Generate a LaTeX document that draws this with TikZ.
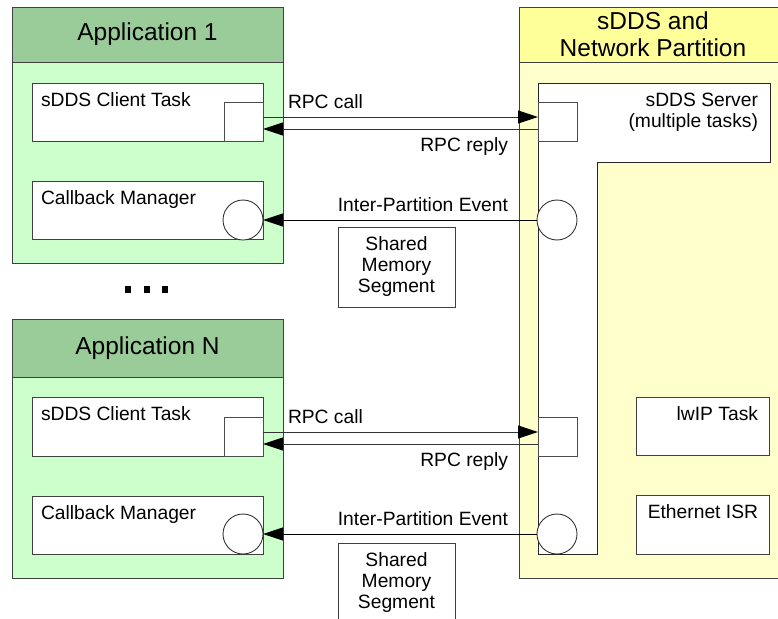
\documentclass[tikz,border=0pt]{standalone}
\usepackage{fontspec}
\setmainfont{Liberation Sans}
\usepackage{xcolor}
\usetikzlibrary{positioning,arrows.meta,calc}
\definecolor{headgreen}{HTML}{99CC99}
\definecolor{bodygreen}{HTML}{CCFFCC}
\definecolor{headyellow}{HTML}{FFFF99}
\definecolor{bodyyellow}{HTML}{FFFFCC}
\tikzset{
  diagram/.style={x=1pt,y=-1pt,
    >={Triangle[length=20pt,width=13pt,color=black]},
    line width=0.9pt},
  every node/.style={inner sep=0pt,outer sep=0pt},
  plain/.style={font=\fontsize{19.25}{21}\selectfont},
  title/.style={font=\fontsize{24.5}{27}\selectfont,align=center},
  frame/.style={rectangle,draw=black!75,anchor=north west},
  appbody/.style={frame,fill=bodygreen},
  apphead/.style={frame,fill=headgreen,title},
  partbody/.style={frame,fill=bodyyellow},
  parthead/.style={frame,fill=headyellow,title},
  taskbox/.style={frame,fill=white},
  membox/.style={frame,fill=white,plain,align=center},
  port/.style={rectangle,draw=black!70,fill=white,minimum size=39pt},
  event/.style={circle,draw=black!80,fill=white,minimum size=40pt},
  call/.style={->,draw=black!80},
  server/.style={draw=black!85,fill=white}}

\begin{document}
\begin{tikzpicture}[diagram]
  \useasboundingbox (0,0) rectangle (778,618);
  \clip (0,0) rectangle (778,618);
  % Application 1
  \node[appbody, minimum width=271pt, minimum height=201pt] (app1) at (12,62) {};
  \node[apphead, minimum width=271pt, minimum height=55pt] (app1head) at (12,7) {Application 1};
  \node[taskbox, minimum width=231pt, minimum height=58pt] (client1) at (32,83) {};
  \node[plain, anchor=base west] (client1text) at (41,106) {sDDS Client Task};
  \node[port, anchor=south east] (csq1) at (client1.south east) {};
  \node[taskbox, minimum width=231pt, minimum height=58pt] (cbm1) at (32,181) {};
  \node[plain, anchor=base west] (cbm1text) at (41,204) {Callback Manager};
  \node[event] (cev1) at (243,220) {};
  % dots
  \foreach \x in {128,147,165}
    \fill (\x-3.25,286) rectangle ++(6.5,6.5);
  % Application N
  \node[appbody, minimum width=271pt, minimum height=201pt] (appN) at (12,377) {};
  \node[apphead, minimum width=271pt, minimum height=58pt] (appNhead) at (12,319) {Application N};
  \node[taskbox, minimum width=231pt, minimum height=59pt] (clientN) at (32,397) {};
  \node[plain, anchor=base west] (clientNtext) at (41,420) {sDDS Client Task};
  \node[port, anchor=south east] (csqN) at (clientN.south east) {};
  \node[taskbox, minimum width=231pt, minimum height=58pt] (cbmN) at (32,496) {};
  \node[plain, anchor=base west] (cbmNtext) at (41,519) {Callback Manager};
  \node[event] (cevN) at (243,534) {};
  % sDDS and network partition
  \node[partbody, minimum width=268pt, minimum height=516pt] (part) at (519,62) {};
  \node[parthead, minimum width=268pt, minimum height=55pt] (parthead) at (519,7) {sDDS and\\Network Partition};
  \draw[server] (538,83) -- (770,83) -- (770,162) -- (597,162) -- (597,554) -- (538,554) -- cycle;
  \node[plain, anchor=base east] (srvtext) at (758,106) {sDDS Server};
  \node[plain, anchor=base east] (srvtext2) at (758,127) {(multiple tasks)};
  \node[port, anchor=north west] (ssq1) at (538,102) {};
  \node[port, anchor=north west] (ssqN) at (538,417) {};
  \node[event] (sev1) at (557,220) {};
  \node[event] (sevN) at (557,534) {};
  \node[taskbox, minimum width=133pt, minimum height=58pt] (lwip) at (636,397) {};
  \node[plain, anchor=base east] (lwiptext) at (758,420) {lwIP Task};
  \node[taskbox, minimum width=133pt, minimum height=59pt] (eth) at (636,495) {};
  \node[plain, anchor=base east] (ethtext) at (758,518) {Ethernet ISR};
  % shared memory
  \node[membox, minimum width=117pt, minimum height=80pt] (shm1) at (338,227) {Shared\\Memory\\Segment};
  \node[membox, minimum width=117pt, minimum height=80pt] (shmN) at (338,543) {Shared\\Memory\\Segment};
  % connectors
  \draw[call] ([yshift=4.5pt]csq1.east) -- ([yshift=4.5pt]ssq1.west);
  \draw[call] ([yshift=-7.5pt]ssq1.west) -- ([yshift=-7.5pt]csq1.east);
  \draw[call,draw=black] (sev1) -- (cev1);
  \draw[call] ([yshift=4.5pt]csqN.east) -- ([yshift=4.5pt]ssqN.west);
  \draw[call] ([yshift=-7.5pt]ssqN.west) -- ([yshift=-7.5pt]csqN.east);
  \draw[call,draw=black] (sevN) -- (cevN);
  % connector labels
  \node[plain, anchor=base west] (call1) at (288,108) {RPC call};
  \node[plain, anchor=base east] (reply1) at (508,151) {RPC reply};
  \node[plain, anchor=base east] (ipe1) at (508,211) {Inter-Partition Event};
  \node[plain, anchor=base west] (callN) at (288,423) {RPC call};
  \node[plain, anchor=base east] (replyN) at (508,466) {RPC reply};
  \node[plain, anchor=base east] (ipeN) at (508,525) {Inter-Partition Event};
\end{tikzpicture}
\end{document}
